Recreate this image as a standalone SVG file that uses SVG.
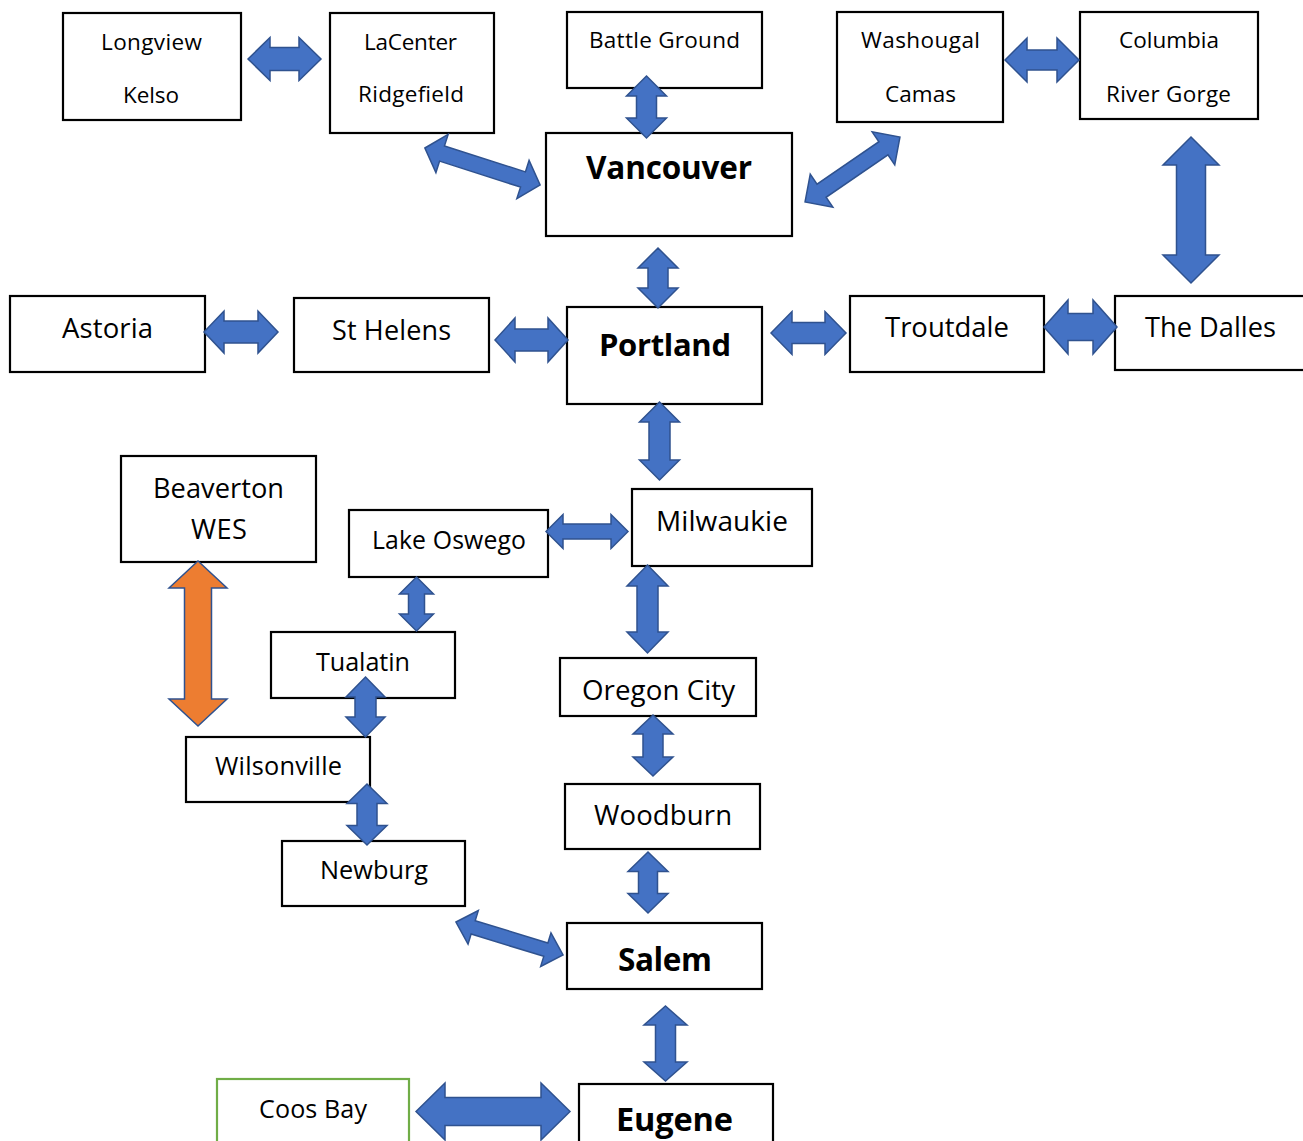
<svg xmlns="http://www.w3.org/2000/svg" width="1303" height="1141" viewBox="0 0 1303 1141">
<style>
.box{fill:#fff;stroke:#000;stroke-width:2.2}
.green{fill:#fff;stroke:#70AD47;stroke-width:2.2}
.t{font-family:"Open Sans","Noto Sans",sans-serif;fill:#000}
.b{font-family:"Open Sans","Noto Sans",sans-serif;font-weight:bold;fill:#000}
.arr{fill:#4472C4;stroke:#2F528F;stroke-width:1.5;stroke-linejoin:miter}
.org{fill:#ED7D31;stroke:#2F528F;stroke-width:1.5}
</style>
<rect width="1303" height="1141" fill="#fff"/>
<g id="longview"><rect class="box" x="63" y="13" width="178" height="107"/><text class="t" x="101" y="50" font-size="22.5" textLength="101">Longview</text><text class="t" x="123" y="103" font-size="22.5" textLength="56">Kelso</text></g>
<g id="lacenter"><rect class="box" x="330" y="13" width="164" height="120"/><text class="t" x="364" y="50" font-size="22.5" textLength="93">LaCenter</text><text class="t" x="358" y="102" font-size="22.5" textLength="106">Ridgefield</text></g>
<g id="battleground"><rect class="box" x="567" y="12" width="195" height="76"/><text class="t" x="589" y="48" font-size="22.5" textLength="151">Battle Ground</text></g>
<g id="vancouver"><rect class="box" x="546" y="133" width="246" height="103"/><text class="b" x="586" y="179" font-size="31.5" textLength="166">Vancouver</text></g>
<g id="washougal"><rect class="box" x="837" y="12" width="166" height="110"/><text class="t" x="861" y="48" font-size="22.5" textLength="119">Washougal</text><text class="t" x="885" y="102" font-size="22.5" textLength="71">Camas</text></g>
<g id="columbia"><rect class="box" x="1080" y="12" width="178" height="107"/><text class="t" x="1119" y="48" font-size="22.5" textLength="100">Columbia</text><text class="t" x="1106" y="102" font-size="22.5" textLength="125">River Gorge</text></g>
<g id="astoria"><rect class="box" x="10" y="296" width="195" height="76"/><text class="t" x="62" y="338" font-size="27.5" textLength="91">Astoria</text></g>
<g id="sthelens"><rect class="box" x="294" y="298" width="195" height="74"/><text class="t" x="332" y="340" font-size="27" textLength="119">St Helens</text></g>
<g id="portland"><rect class="box" x="567" y="307" width="195" height="97"/><text class="b" x="599" y="356" font-size="31" textLength="132">Portland</text></g>
<g id="troutdale"><rect class="box" x="850" y="296" width="194" height="76"/><text class="t" x="885" y="337" font-size="27.5" textLength="124">Troutdale</text></g>
<g id="thedalles"><rect class="box" x="1115" y="296" width="200" height="74"/><text class="t" x="1145" y="337" font-size="27.2" textLength="131">The Dalles</text></g>
<g id="beaverton"><rect class="box" x="121" y="456" width="195" height="106"/><text class="t" x="153" y="498" font-size="27.2" textLength="131">Beaverton</text><text class="t" x="191" y="539" font-size="27.2" textLength="56">WES</text></g>
<g id="lakeoswego"><rect class="box" x="349" y="510" width="199" height="67"/><text class="t" x="372" y="549" font-size="24.8" textLength="154">Lake Oswego</text></g>
<g id="milwaukie"><rect class="box" x="632" y="489" width="180" height="77"/><text class="t" x="656" y="531" font-size="28" textLength="132">Milwaukie</text></g>
<g id="tualatin"><rect class="box" x="271" y="632" width="184" height="66"/><text class="t" x="316" y="671" font-size="25.2" textLength="94">Tualatin</text></g>
<g id="oregoncity"><rect class="box" x="560" y="658" width="196" height="58"/><text class="t" x="582" y="700" font-size="27.7" textLength="153">Oregon City</text></g>
<g id="wilsonville"><rect class="box" x="186" y="737" width="184" height="65"/><text class="t" x="215" y="775" font-size="25.3" textLength="127">Wilsonville</text></g>
<g id="woodburn"><rect class="box" x="565" y="784" width="195" height="65"/><text class="t" x="594" y="825" font-size="27.5" textLength="138">Woodburn</text></g>
<g id="newburg"><rect class="box" x="282" y="841" width="183" height="65"/><text class="t" x="320" y="879" font-size="25.3" textLength="108">Newburg</text></g>
<g id="salem"><rect class="box" x="567" y="923" width="195" height="66"/><text class="b" x="618" y="971" font-size="31.5" textLength="94">Salem</text></g>
<g id="coosbay"><rect class="green" x="217" y="1079" width="192" height="80"/><text class="t" x="259" y="1118" font-size="25.1" textLength="108">Coos Bay</text></g>
<g id="eugene"><rect class="box" x="579" y="1084" width="194" height="80"/><text class="b" x="616" y="1131" font-size="32.5" textLength="117">Eugene</text></g>
<g id="connectors">
<polygon class="arr" points="248,59 270,37.5 270,47.5 299,47.5 299,37.5 321,59 299,80.5 299,70.5 270,70.5 270,80.5"/>
<polygon class="arr" transform="translate(482.5,166.5) rotate(17.8)" points="-60.5,0 -42.5,-20 -42.5,-8 42.5,-8 42.5,-20 60.5,0 42.5,20 42.5,8 -42.5,8 -42.5,20"/>
<polygon class="arr" points="646.5,76 666.5,96 656.5,96 656.5,118 666.5,118 646.5,138 626.5,118 636.5,118 636.5,96 626.5,96"/>
<polygon class="arr" transform="translate(852.5,169.5) rotate(-34.4)" points="-57.5,0 -37.5,-20 -37.5,-8 37.5,-8 37.5,-20 57.5,0 37.5,20 37.5,8 -37.5,8 -37.5,20"/>
<polygon class="arr" points="1005,60 1027,38 1027,50 1057,50 1057,38 1079,60 1057,82 1057,70 1027,70 1027,82"/>
<polygon class="arr" points="1191,137 1219,165 1205.5,165 1205.5,255 1219,255 1191,283 1163,255 1176.5,255 1176.5,165 1163,165"/>
<polygon class="arr" points="658,248 678,268 668,268 668,288 678,288 658,308 638,288 648,288 648,268 638,268"/>
<polygon class="arr" points="204,332 224,311 224,321 258,321 258,311 278,332 258,353 258,343 224,343 224,353"/>
<polygon class="arr" points="495,340 515,318 515,329 548,329 548,318 568,340 548,362 548,351 515,351 515,362"/>
<polygon class="arr" points="771,333 792,311.5 792,322.5 825,322.5 825,311.5 846,333 825,354.5 825,343.5 792,343.5 792,354.5"/>
<polygon class="arr" points="1044,327 1068,300 1068,313.5 1093,313.5 1093,300 1117,327 1093,354 1093,340.5 1068,340.5 1068,354"/>
<polygon class="arr" points="659.5,402 679.5,422 670,422 670,460 679.5,460 659.5,480 639.5,460 649,460 649,422 639.5,422"/>
<polygon class="arr" points="546,531.5 563,514.5 563,524 611,524 611,514.5 628,531.5 611,548.5 611,539 563,539 563,548.5"/>
<polygon class="org" points="198,561 227,588 211.5,588 211.5,699 227,699 198,726 169,699 184.5,699 184.5,588 169,588"/>
<polygon class="arr" points="416.5,577 433.5,594 424.5,594 424.5,614 433.5,614 416.5,631 399.5,614 408.5,614 408.5,594 399.5,594"/>
<polygon class="arr" points="365.5,677 385,697 376,697 376,717 385,717 365.5,737 346,717 355,717 355,697 346,697"/>
<polygon class="arr" points="647.5,565 668,586 658,586 658,632 668,632 647.5,653 627,632 637,632 637,586 627,586"/>
<polygon class="arr" points="653,715 673,734 663,734 663,757 673,757 653,776 633,757 643,757 643,734 633,734"/>
<polygon class="arr" points="648,852 668,871.5 657.5,871.5 657.5,893.5 668,893.5 648,913 628,893.5 638.5,893.5 638.5,871.5 628,871.5"/>
<polygon class="arr" points="367,784 387,803.5 377,803.5 377,825.5 387,825.5 367,845 347,825.5 357,825.5 357,803.5 347,803.5"/>
<polygon class="arr" transform="translate(509.5,938.5) rotate(17.1)" points="-56,0 -38,-17.5 -38,-7 38,-7 38,-17.5 56,0 38,17.5 38,7 -38,7 -38,17.5"/>
<polygon class="arr" points="665.5,1006 687,1025 675.5,1025 675.5,1062 687,1062 665.5,1081 644,1062 655.5,1062 655.5,1025 644,1025"/>
<polygon class="arr" points="416,1111.5 445,1083 445,1097.5 541,1097.5 541,1083 570,1111.5 541,1140 541,1125.5 445,1125.5 445,1140"/>
</g>
</svg>
